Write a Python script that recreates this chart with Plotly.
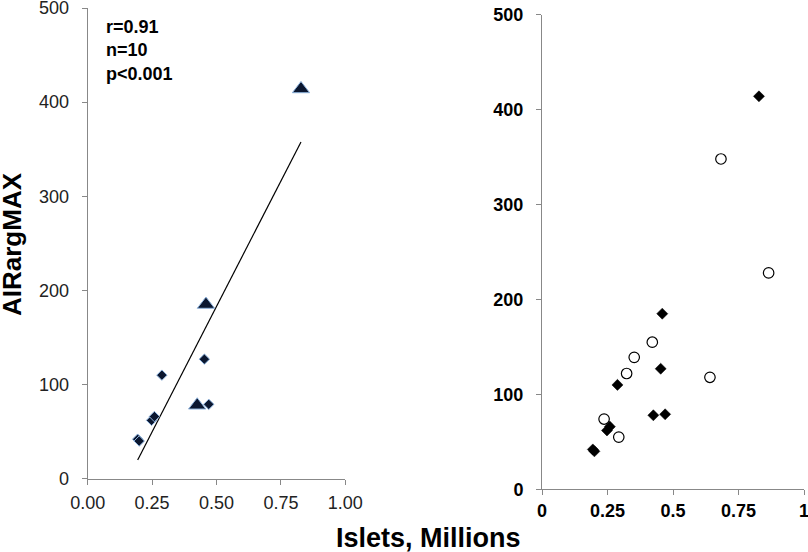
import numpy as np
import plotly.graph_objects as go

# ---- data ----
diamond_x = [0.194, 0.200, 0.248, 0.259, 0.288, 0.453, 0.470]
diamond_y = [42, 40, 62, 66, 110, 127, 79]
triangle_x = [0.425, 0.459, 0.828]
triangle_y = [78, 185, 414]
circle_x = [0.683, 0.865, 0.421, 0.352, 0.323, 0.641, 0.237, 0.293]
circle_y = [348, 228, 155, 139, 122, 118, 74, 55]
left_xticks = [0, 0.25, 0.5, 0.75, 1.0]
left_xlabels = ["0.00", "0.25", "0.50", "0.75", "1.00"]
right_xlabels = ["0", "0.25", "0.5", "0.75", "1"]
yticks = [0, 100, 200, 300, 400, 500]
stats_text = "r=0.91<br>n=10<br>p<0.001"

W, H = 808, 552
FONT = "Arial, Liberation Sans, sans-serif"

all_x = np.array(diamond_x + triangle_x)
all_y = np.array(diamond_y + triangle_y)
slope, icpt = np.polyfit(all_x, all_y, 1)
fit_x = np.array([all_x.min(), all_x.max()])
fit_y = slope * fit_x + icpt

fig = go.Figure()
navy = "#0b1730"
edge = "#8fb4de"
fig.add_trace(go.Scatter(x=fit_x, y=fit_y, mode="lines", line=dict(color="black", width=1.2),
                         xaxis="x", yaxis="y", showlegend=False))
fig.add_trace(go.Scatter(x=diamond_x, y=diamond_y, mode="markers",
                         marker=dict(symbol="diamond", size=8, color=navy, line=dict(color=edge, width=1)),
                         xaxis="x", yaxis="y", showlegend=False))
fig.add_trace(go.Scatter(x=triangle_x, y=triangle_y, mode="markers",
                         marker=dict(symbol="triangle-up", size=15, color=navy, line=dict(color=edge, width=1)),
                         xaxis="x", yaxis="y", showlegend=False))
fig.add_trace(go.Scatter(x=diamond_x + triangle_x, y=diamond_y + triangle_y, mode="markers",
                         marker=dict(symbol="diamond", size=8.5, color="black", line=dict(color="black", width=0.5)),
                         xaxis="x2", yaxis="y2", showlegend=False))
fig.add_trace(go.Scatter(x=circle_x, y=circle_y, mode="markers",
                         marker=dict(symbol="circle", size=10.5, color="white", line=dict(color="black", width=1.2)),
                         xaxis="x2", yaxis="y2", showlegend=False))

def px_x(p):
    return p / W

def px_y(p):
    return 1 - p / H

axis_common = dict(showgrid=False, zeroline=False, showline=True, linecolor="#888888", linewidth=1,
                   ticks="outside", ticklen=5, tickcolor="#888888", tickwidth=1, automargin=False,
                   ticklabeloverflow="allow")

fig.update_layout(
    width=W, height=H, margin=dict(l=0, r=0, t=0, b=0),
    paper_bgcolor="white", plot_bgcolor="white",
    font=dict(family=FONT, color="black"),
    xaxis=dict(domain=[px_x(87.7), px_x(345.3)], range=[0, 1], tickvals=left_xticks, ticktext=left_xlabels,
               tickfont=dict(size=18, color="#222222"), ticklabelstandoff=3, anchor="y", **axis_common),
    yaxis=dict(domain=[px_y(478.7), px_y(8)], range=[0, 500], tickvals=yticks,
               tickfont=dict(size=18, color="#222222"), ticklabelstandoff=9, anchor="x", **axis_common),
    xaxis2=dict(domain=[px_x(542), px_x(804)], range=[0, 1], tickvals=left_xticks, ticktext=right_xlabels,
                tickfont=dict(size=18, color="black", weight="bold"), ticklabelstandoff=0, anchor="y2", **axis_common),
    yaxis2=dict(domain=[px_y(489.3), px_y(14.7)], range=[0, 500], tickvals=yticks,
                tickfont=dict(size=18, color="black", weight="bold"), ticklabelstandoff=9, anchor="x2", **axis_common),
)

fig.add_annotation(text=stats_text, xref="paper", yref="paper", x=px_x(104), y=px_y(15),
                   xanchor="left", yanchor="top", align="left", showarrow=False,
                   font=dict(size=18, family=FONT, weight="bold", color="black"))
fig.add_annotation(text="Islets, Millions", xref="paper", yref="paper", x=px_x(428), y=px_y(538),
                   xanchor="center", yanchor="middle", showarrow=False,
                   font=dict(size=27, family=FONT, weight="bold", color="black"))
fig.add_annotation(text="AIRargMAX", xref="paper", yref="paper", x=px_x(12), y=px_y(244),
                   xanchor="center", yanchor="middle", textangle=-90, showarrow=False,
                   font=dict(size=26, family=FONT, weight="bold", color="black"))

fig.write_html("out.html", config={"displayModeBar": False},
               post_script="document.body.style.margin='0';document.body.style.overflow='hidden';")
